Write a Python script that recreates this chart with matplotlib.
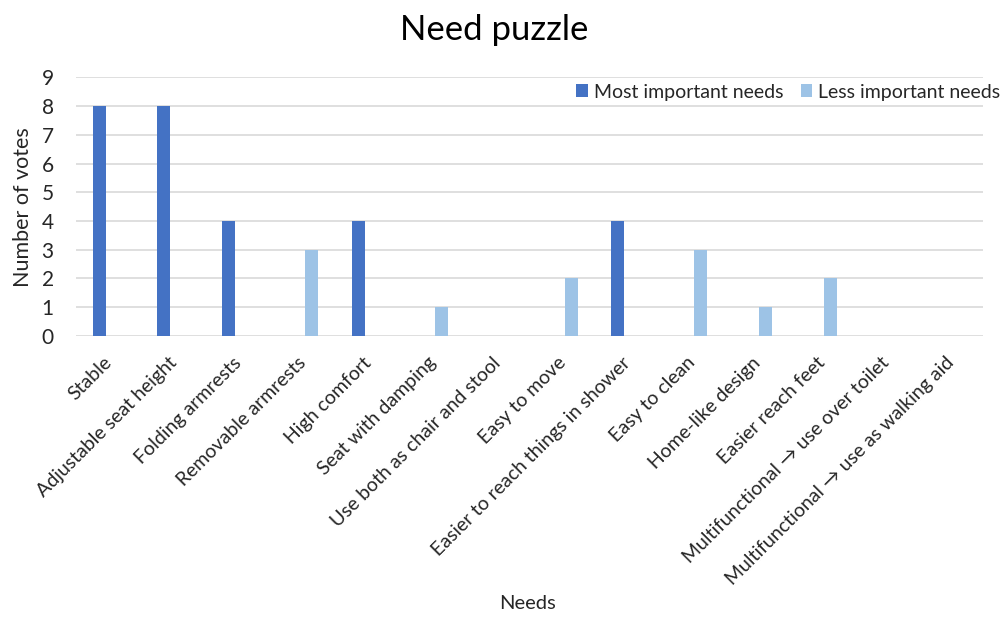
import matplotlib
matplotlib.use("Agg")
import matplotlib.pyplot as plt
import matplotlib.transforms as mtransforms
import numpy as np

plt.rcParams['font.family'] = ['Lato', 'DejaVu Sans']

# votes per need
needs = ['Stable', 'Adjustable seat height', 'Folding armrests', 'Removable armrests',
         'High comfort', 'Seat with damping', 'Use both as chair and stool', 'Easy to move',
         'Easier to reach things in shower', 'Easy to clean', 'Home-like design',
         'Easier reach feet', 'Multifunctional \u2192 use over toilet',
         'Multifunctional \u2192 use as walking aid']
most_important = [8, 8, 4, 0, 4, 0, 0, 0, 4, 0, 0, 0, 0, 0]
less_important = [0, 0, 0, 3, 0, 1, 0, 2, 0, 3, 1, 2, 0, 0]

dark = '#4472C4'
light = '#9DC3E6'
txt = '#262626'

fig = plt.figure(figsize=(10.02, 6.26), dpi=100)
ax = fig.add_axes([0.0758, 0.4633, 0.9052, 0.4132])

x = np.arange(len(needs))
w = 0.2
ax.bar(x - 0.143, most_important, w, color=dark, label='Most important needs', zorder=3)
ax.bar(x + 0.143, less_important, w, color=light, label='Less important needs', zorder=3)

ax.set_xlim(-0.5, len(needs) - 0.5)
ax.set_ylim(0, 9)
ax.set_yticks(range(0, 10))
ax.grid(axis='y', color='#D9D9D9', linewidth=1.2, zorder=0)
for s in ['top', 'right', 'left', 'bottom']:
    ax.spines[s].set_visible(False)
ax.tick_params(axis='both', length=0, colors=txt)
ax.tick_params(axis='y', pad=16, labelsize=15)

ax.set_xticks(x)
ax.set_xticklabels(needs, rotation=45, ha='right', rotation_mode='anchor', fontsize=14)
ax.tick_params(axis='x', pad=13)
# nudge the slanted labels a little to the left
shift = mtransforms.ScaledTranslation(-5 / 100, 0, fig.dpi_scale_trans)
for lbl in ax.get_xticklabels():
    lbl.set_transform(lbl.get_transform() + shift)

ax.set_ylabel('Number of votes', fontsize=15.5, color=txt, labelpad=6)
fig.text(0.526, 0.022, 'Needs', fontsize=14.5, color=txt, ha='center', va='bottom')
fig.text(0.493, 0.952, 'Need puzzle', fontsize=25, color='black', ha='center', va='center')

fig.legend(loc='center right', bbox_to_anchor=(1.006, 0.853), ncol=2, frameon=False,
           fontsize=14, handlelength=0.6, handleheight=0.6, handletextpad=0.3,
           columnspacing=0.9, labelcolor=txt, borderaxespad=0)

fig.savefig('out.png', dpi=100)
